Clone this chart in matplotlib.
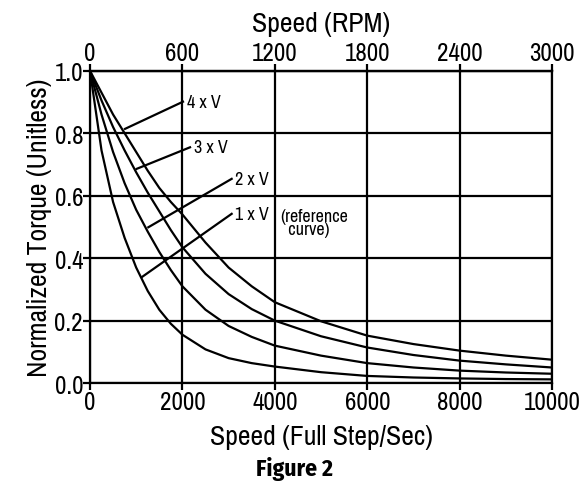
import matplotlib
matplotlib.use('Agg')
import matplotlib.pyplot as plt

plt.rcParams['font.family'] = ['Archivo Narrow', 'Liberation Sans Narrow', 'DejaVu Sans']

# vitesse en pas complets / seconde
speed = [0, 250, 500, 750, 1000, 1250, 1500, 1750, 2000, 2500, 3000, 3500,
         4000, 5000, 6000, 7000, 8000, 9000, 10000]

# couple normalise
torque_4v = [1.0, 0.93, 0.86, 0.80, 0.74, 0.68, 0.625, 0.58, 0.54, 0.45, 0.37,
             0.31, 0.259, 0.198, 0.152, 0.125, 0.104, 0.088, 0.075]
torque_3v = [1.0, 0.905, 0.82, 0.745, 0.675, 0.61, 0.55, 0.49, 0.435, 0.35,
             0.285, 0.237, 0.20, 0.15, 0.114, 0.09, 0.072, 0.06, 0.05]
torque_2v = [1.0, 0.86, 0.74, 0.64, 0.555, 0.485, 0.42, 0.362, 0.31, 0.235,
             0.183, 0.148, 0.12, 0.088, 0.064, 0.05, 0.04, 0.034, 0.03]
torque_1v = [1.0, 0.745, 0.58, 0.465, 0.37, 0.295, 0.235, 0.19, 0.155, 0.108,
             0.08, 0.064, 0.053, 0.035, 0.023, 0.018, 0.015, 0.013, 0.012]

x_ticks = [0, 2000, 4000, 6000, 8000, 10000]
rpm_ticks = [0, 600, 1200, 1800, 2400, 3000]
y_ticks = [0.0, 0.2, 0.4, 0.6, 0.8, 1.0]

fig = plt.figure(figsize=(5.88, 4.85), dpi=100)
ax = fig.add_axes([0.153, 0.208, 0.786, 0.644])

for t in [torque_4v, torque_3v, torque_2v, torque_1v]:
    ax.plot(speed, t, color='black', lw=1.6, zorder=3)

ax.set_xlim(0, 10000)
ax.set_ylim(0, 1.0)
ax.set_xticks(x_ticks)
ax.set_yticks(y_ticks)
ax.set_yticklabels(['%.1f' % v for v in y_ticks])
ax.grid(True, color='black', lw=1.6)
for s in ax.spines.values():
    s.set_linewidth(1.6)
ax.tick_params(width=1.6, length=5, labelsize=18, pad=0)
ax.set_xlabel('Speed (Full Step/Sec)', fontsize=20, labelpad=8)
ax.set_ylabel('Normalized Torque (Unitless)', fontsize=20, labelpad=2)

top = ax.secondary_xaxis('top', functions=(lambda x: x * 0.3, lambda r: r / 0.3))
top.set_xticks(rpm_ticks)
top.tick_params(width=1.6, length=5, labelsize=18, pad=0)
top.set_xlabel('Speed (RPM)', fontsize=20, labelpad=7)
top.spines['top'].set_linewidth(1.6)

# etiquettes des courbes
labels = [('4 x V', (758, 0.814), (2013, 0.901)),
          ('3 x V', (1010, 0.686), (2165, 0.755)),
          ('2 x V', (1263, 0.499), (3066, 0.654)),
          ('1 x V', (1118, 0.339), (3066, 0.542))]
for txt, p0, p1 in labels:
    ax.plot([p0[0], p1[0]], [p0[1], p1[1]], color='black', lw=1.6, zorder=3)
    ax.text(p1[0] + 80, p1[1], txt, fontsize=13, va='center', ha='left', zorder=4)
ax.text(4120, 0.515, '(reference\n  curve)', fontsize=13, va='center', ha='left',
        linespacing=0.8)

fig.text(0.5, 0.032, 'Figure 2', fontsize=17, fontweight='bold', ha='center', va='center',
         family=['Fira Sans Condensed', 'Archivo Narrow', 'DejaVu Sans'])

plt.savefig('out.png', dpi=100)
